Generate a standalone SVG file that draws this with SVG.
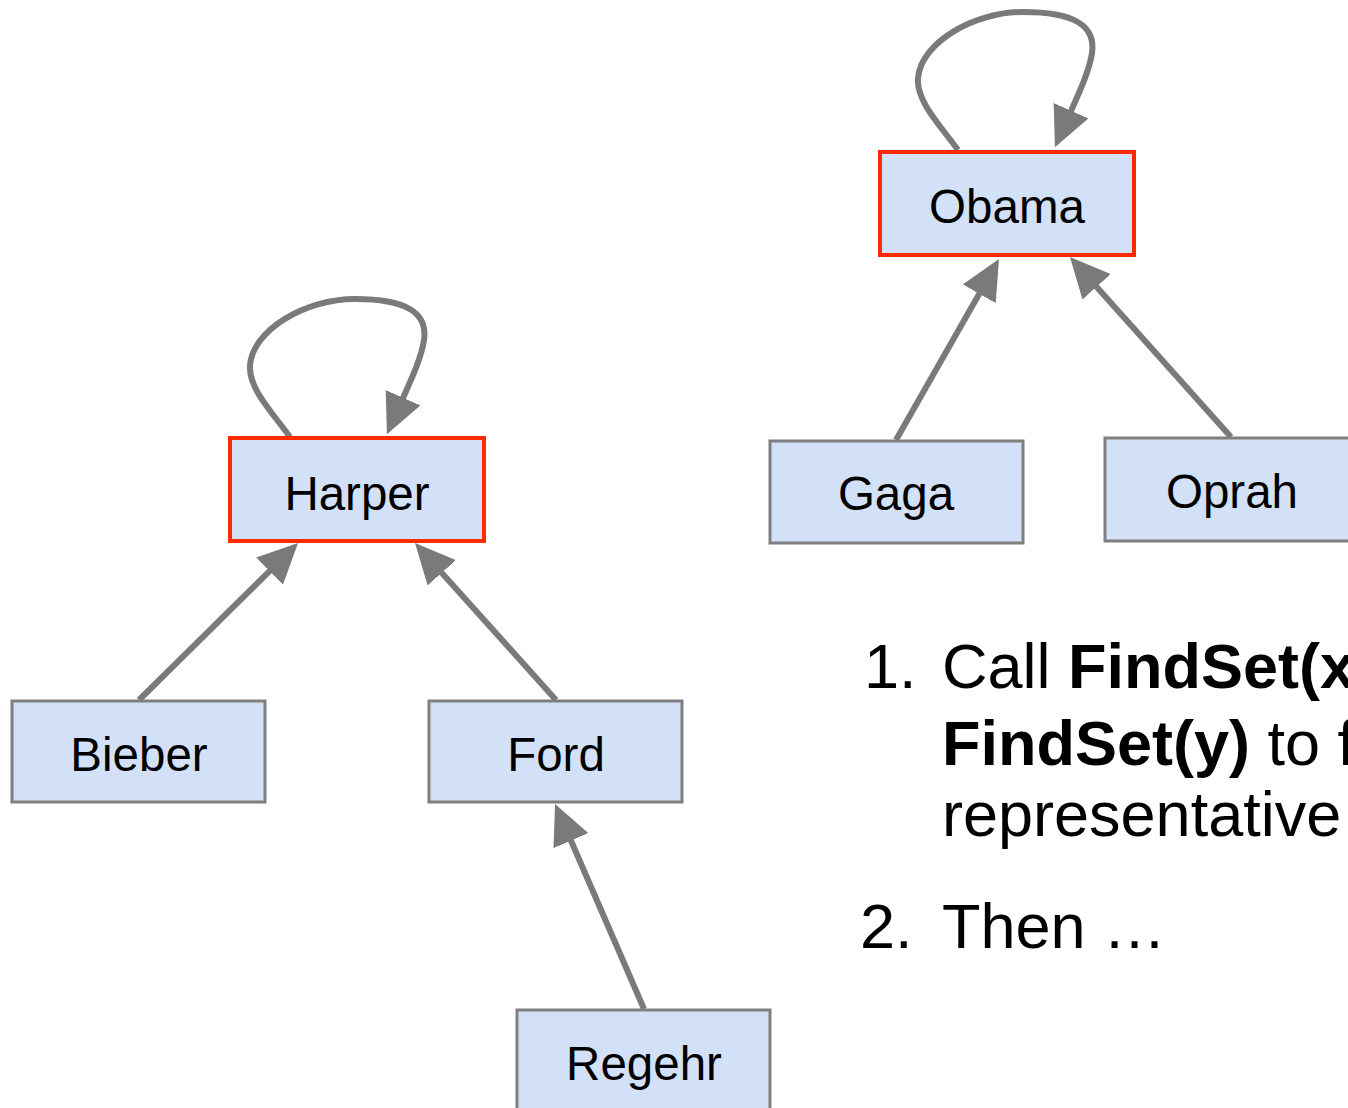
<svg xmlns="http://www.w3.org/2000/svg" width="1348" height="1108" viewBox="0 0 1348 1108">
<style>
.node rect{fill:#d2e0f8;stroke:#7f7f7f;stroke-width:3}
.root rect{stroke:#ff2a00;stroke-width:4}
.node text{font-family:"Liberation Sans",Arial,sans-serif;font-size:47.5px;fill:#000;text-anchor:middle}
.edge{fill:none;stroke:#7a7a7a;stroke-width:6;marker-end:url(#ah)}
.list{font-family:"Liberation Sans",Arial,sans-serif;font-size:63px;fill:#000}
.b{font-weight:bold}
</style>
<defs>
<marker id="ah" markerUnits="userSpaceOnUse" markerWidth="40" markerHeight="38" refX="20" refY="19" orient="auto" viewBox="0 0 40 38">
<path d="M0,0 L40,19 L0,38 z" fill="#7a7a7a"/>
</marker>
</defs>
<rect width="1348" height="1108" fill="#fff"/>
<g id="connectors">
<line class="edge" x1="139" y1="700" x2="283.8" y2="557.1"/>
<line class="edge" x1="556" y1="700" x2="428.4" y2="557.9"/>
<line class="edge" x1="644" y1="1009" x2="563" y2="822.3"/>
<line class="edge" x1="896" y1="440" x2="989.1" y2="276.4"/>
<line class="edge" x1="1231" y1="437" x2="1083.3" y2="271.9"/>
<path class="edge" d="M290,437 C272,412 248,388 250,365 C253,330 305,299 355,299 C405,299 428,312 424,340 C421,360 410,382 395,416"/>
<path class="edge" d="M958,150 C940,125 916,101 918,78 C921,43 973,12 1023,12 C1073,12 1096,25 1092,53 C1089,73 1078,95 1063,129"/>
</g>
<g id="harper" class="node root"><rect x="230" y="438" width="254" height="103"/><text x="357" y="510">Harper</text></g>
<g id="obama" class="node root"><rect x="880" y="152" width="254" height="103"/><text x="1007" y="223">Obama</text></g>
<g id="gaga" class="node"><rect x="770" y="441" width="253" height="102"/><text x="896" y="510">Gaga</text></g>
<g id="oprah" class="node"><rect x="1105" y="438" width="254" height="103"/><text x="1232" y="508">Oprah</text></g>
<g id="bieber" class="node"><rect x="12" y="701" width="253" height="101"/><text x="139" y="771">Bieber</text></g>
<g id="ford" class="node"><rect x="429" y="701" width="253" height="101"/><text x="556" y="771">Ford</text></g>
<g id="regehr" class="node"><rect x="517" y="1010" width="253" height="101"/><text x="644" y="1080">Regehr</text></g>
<g id="steps">
<text class="list" x="864" y="688">1.</text>
<text class="list" x="942" y="688">Call <tspan class="b">FindSet(x)</tspan></text>
<text class="list" x="942" y="765"><tspan class="b">FindSet(y)</tspan> to find</text>
<text class="list" x="942" y="836">representative</text>
<text class="list" x="860" y="948">2.</text>
<text class="list" x="942" y="948">Then …</text>
</g>
</svg>
